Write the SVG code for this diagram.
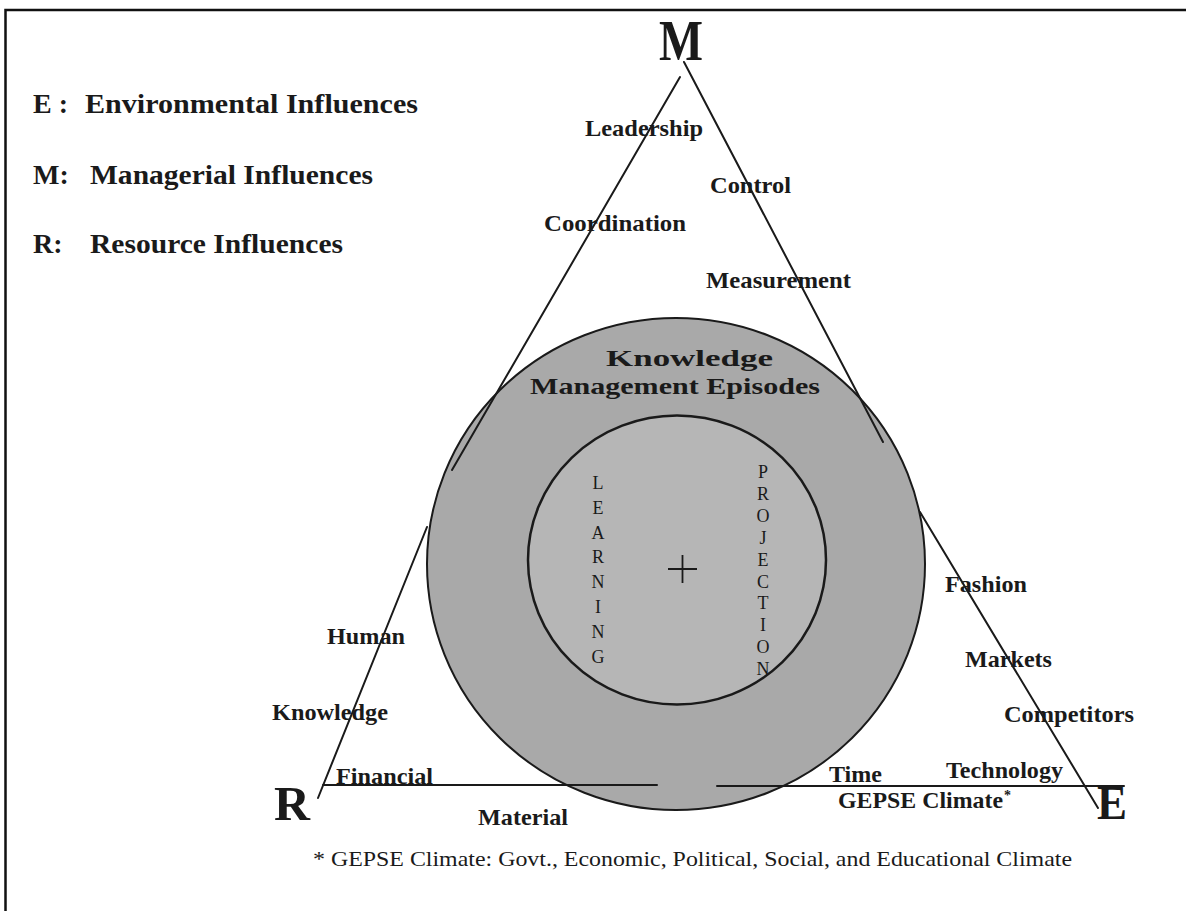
<svg xmlns="http://www.w3.org/2000/svg" width="1186" height="911" viewBox="0 0 1186 911">
<style>
.b{font-family:"Liberation Serif","Times New Roman",serif;font-weight:bold;fill:#1a1a1a}
.r{font-family:"Liberation Serif","Times New Roman",serif;fill:#1a1a1a}
.lbl{font-size:23px}
.leg{font-size:28px}
.vt{font-size:18px;text-anchor:middle}
.ln{stroke:#1a1a1a;stroke-width:2;fill:none;stroke-linecap:round}
</style>
<rect x="0" y="0" width="1186" height="911" fill="#ffffff"/>
<path d="M5.5 911 V10 H1186" fill="none" stroke="#111" stroke-width="2.5"/>
<g id="legend">
<text class="b leg" x="33" y="113">E :</text>
<text class="b leg" x="85" y="113" textLength="333" lengthAdjust="spacingAndGlyphs">Environmental Influences</text>
<text class="b leg" x="33" y="184">M:</text>
<text class="b leg" x="90" y="184" textLength="283" lengthAdjust="spacingAndGlyphs">Managerial Influences</text>
<text class="b leg" x="33" y="253">R:</text>
<text class="b leg" x="90" y="253" textLength="253" lengthAdjust="spacingAndGlyphs">Resource Influences</text>
</g>
<g id="circle-node">
<ellipse cx="676" cy="564" rx="249" ry="246" fill="#a9a9a9" stroke="#1a1a1a" stroke-width="2"/>
<ellipse cx="677" cy="560" rx="149" ry="144.5" fill="#b6b6b6" stroke="#1a1a1a" stroke-width="2.5"/>
<text class="b lbl" x="606" y="366" textLength="167" lengthAdjust="spacingAndGlyphs">Knowledge</text>
<text class="b lbl" x="530" y="394" textLength="290" lengthAdjust="spacingAndGlyphs">Management Episodes</text>
<text class="r vt"><tspan x="598" y="489">L</tspan><tspan x="598" y="514">E</tspan><tspan x="598" y="539">A</tspan><tspan x="598" y="563">R</tspan><tspan x="598" y="588">N</tspan><tspan x="598" y="613">I</tspan><tspan x="598" y="638">N</tspan><tspan x="598" y="663">G</tspan></text>
<text class="r vt"><tspan x="763" y="478">P</tspan><tspan x="763" y="500">R</tspan><tspan x="763" y="522">O</tspan><tspan x="763" y="544">J</tspan><tspan x="763" y="566">E</tspan><tspan x="763" y="588">C</tspan><tspan x="763" y="609">T</tspan><tspan x="763" y="631">I</tspan><tspan x="763" y="653">O</tspan><tspan x="763" y="675">N</tspan></text>
<path d="M668 569 H697 M682.5 555 V583" stroke="#1a1a1a" stroke-width="1.8" fill="none"/>
</g>
<g id="connectors">
<line class="ln" x1="680" y1="77" x2="452" y2="470"/>
<line class="ln" x1="427" y1="527" x2="318" y2="798"/>
<line class="ln" x1="684" y1="62" x2="883" y2="442"/>
<line class="ln" x1="920" y1="512" x2="1098" y2="808"/>
<line class="ln" x1="323" y1="785" x2="657" y2="785"/>
<line class="ln" x1="717" y1="786" x2="1124" y2="786"/>
</g>
<g id="vertex-M"><text class="b" x="659" y="60" style="font-size:56px" textLength="44" lengthAdjust="spacingAndGlyphs">M</text></g>
<g id="vertex-R"><text class="b" x="274" y="820" style="font-size:48px" textLength="36" lengthAdjust="spacingAndGlyphs">R</text></g>
<g id="vertex-E"><text class="b" x="1097" y="819" style="font-size:48px" textLength="30" lengthAdjust="spacingAndGlyphs">E</text></g>
<g id="managerial-labels">
<text class="b lbl" x="585" y="136" textLength="118" lengthAdjust="spacingAndGlyphs">Leadership</text>
<text class="b lbl" x="710" y="193" textLength="81" lengthAdjust="spacingAndGlyphs">Control</text>
<text class="b lbl" x="544" y="231" textLength="142" lengthAdjust="spacingAndGlyphs">Coordination</text>
<text class="b lbl" x="706" y="288" textLength="145" lengthAdjust="spacingAndGlyphs">Measurement</text>
</g>
<g id="environmental-labels">
<text class="b lbl" x="945" y="592" textLength="82" lengthAdjust="spacingAndGlyphs">Fashion</text>
<text class="b lbl" x="965" y="667" textLength="87" lengthAdjust="spacingAndGlyphs">Markets</text>
<text class="b lbl" x="1004" y="722" textLength="130" lengthAdjust="spacingAndGlyphs">Competitors</text>
<text class="b lbl" x="946" y="778" textLength="117" lengthAdjust="spacingAndGlyphs">Technology</text>
<text class="b lbl" x="829" y="782" textLength="53" lengthAdjust="spacingAndGlyphs">Time</text>
<text class="b lbl" x="838" y="808" textLength="165" lengthAdjust="spacingAndGlyphs">GEPSE Climate</text>
<text class="b" x="1004" y="800" style="font-size:14px">*</text>
</g>
<g id="resource-labels">
<text class="b lbl" x="327" y="644" textLength="78" lengthAdjust="spacingAndGlyphs">Human</text>
<text class="b lbl" x="272" y="720" textLength="116" lengthAdjust="spacingAndGlyphs">Knowledge</text>
<text class="b lbl" x="336" y="784" textLength="97" lengthAdjust="spacingAndGlyphs">Financial</text>
<text class="b lbl" x="478" y="825" textLength="90" lengthAdjust="spacingAndGlyphs">Material</text>
</g>
<g id="footnote">
<text class="r" x="313" y="866" style="font-size:21px" textLength="759" lengthAdjust="spacingAndGlyphs">* GEPSE Climate: Govt., Economic, Political, Social, and Educational Climate</text>
</g>
</svg>
